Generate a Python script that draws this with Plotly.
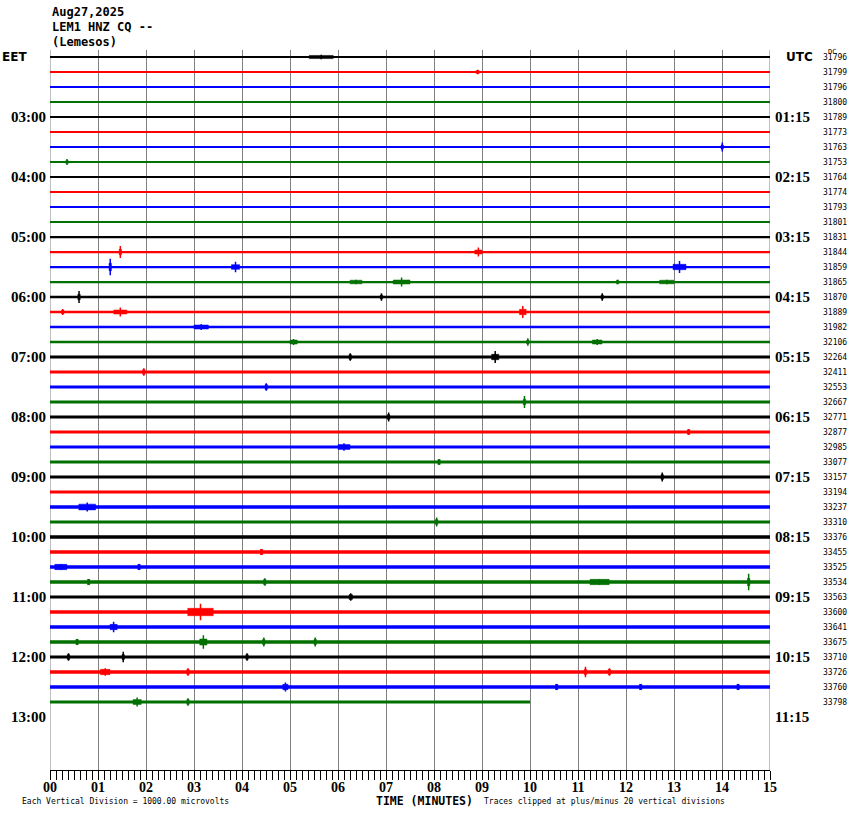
import plotly.graph_objects as go

# ---------------- data ----------------
title_lines = ["Aug27,2025", "LEM1 HNZ CQ --", "(Lemesos)"]
minute_ticks = [f"{m:02d}" for m in range(16)]
left_hour_labels = ["03:00", "04:00", "05:00", "06:00", "07:00", "08:00",
                    "09:00", "10:00", "11:00", "12:00", "13:00"]
right_hour_labels = ["01:15", "02:15", "03:15", "04:15", "05:15", "06:15",
                     "07:15", "08:15", "09:15", "10:15", "11:15"]
dc_values = [31796, 31799, 31796, 31800, 31789, 31773, 31763, 31753,
             31764, 31774, 31793, 31801, 31831, 31844, 31859, 31865,
             31870, 31889, 31982, 32106, 32264, 32411, 32553, 32667,
             32771, 32877, 32985, 33077, 33157, 33194, 33237, 33310,
             33376, 33455, 33525, 33534, 33563, 33600, 33641, 33675,
             33710, 33726, 33760, 33798]
# minute at which each line ends (last line is still being recorded)
trace_end = [15] * 43 + [10]
# background noise half-amplitude per line (in trace spacings)
noise_amp = ([0.065] * 12 + [0.075] * 4 + [0.085] * 4 + [0.10] * 8 +
             [0.10, 0.10, 0.12, 0.10, 0.11, 0.11, 0.11, 0.11,
              0.10, 0.11, 0.11, 0.11, 0.10, 0.11, 0.11, 0.10])
trace_colors = ["#000000", "#ff0000", "#0000ff", "#007000"]

# notable signal bursts: line index, start minute, end minute, peak half-amplitude (trace spacings)
ev_row = [0, 1, 6, 7, 13, 13, 14, 14, 14, 15, 15, 15, 15,
          16, 16, 16, 17, 17, 17, 18, 19, 19, 19,
          20, 20, 21, 22, 23, 24, 25, 26, 27, 28, 30, 31,
          33, 34, 34, 35, 35, 35, 35, 36, 37, 38,
          39, 39, 39, 39, 40, 40, 40, 41, 41, 41, 41,
          42, 42, 42, 42, 43, 43]
ev_start = [5.40, 8.88, 13.98, 0.33, 1.44, 8.85, 1.23, 3.78, 12.98, 7.15, 6.25, 12.7, 11.8,
            0.58, 6.88, 11.48, 1.33, 0.24, 9.78, 3.00, 5.00, 9.93, 11.3,
            9.20, 6.23, 1.93, 4.48, 9.86, 7.03, 13.28, 6.00, 8.08, 12.73, 0.60, 8.03,
            4.38, 0.10, 1.83, 14.53, 11.25, 0.78, 4.45, 6.23, 2.87, 1.25,
            3.12, 4.43, 5.50, 0.54, 1.50, 4.08, 0.36, 1.05, 2.85, 11.13, 11.63,
            4.85, 10.53, 12.28, 14.31, 1.73, 2.85]
ev_end = [5.90, 8.94, 14.03, 0.38, 1.49, 9.00, 1.28, 3.95, 13.25, 7.50, 6.50, 13.0, 11.85,
          0.63, 6.93, 11.53, 1.60, 0.29, 9.92, 3.30, 5.15, 9.98, 11.5,
          9.35, 6.28, 1.98, 4.53, 9.91, 7.08, 13.33, 6.25, 8.13, 12.78, 0.95, 8.08,
          4.43, 0.35, 1.88, 14.58, 11.65, 0.83, 4.50, 6.30, 3.40, 1.40,
          3.27, 4.48, 5.55, 0.59, 1.55, 4.13, 0.41, 1.25, 2.90, 11.18, 11.68,
          4.96, 10.58, 12.33, 14.36, 1.90, 2.90]
ev_amp = [0.15, 0.15, 0.30, 0.20, 0.40, 0.30, 0.55, 0.35, 0.40, 0.30, 0.15, 0.15, 0.15,
          0.40, 0.25, 0.25, 0.30, 0.20, 0.40, 0.20, 0.20, 0.25, 0.20,
          0.40, 0.25, 0.25, 0.25, 0.40, 0.30, 0.20, 0.25, 0.20, 0.30, 0.30, 0.30,
          0.20, 0.20, 0.20, 0.55, 0.20, 0.20, 0.25, 0.25, 0.55, 0.35,
          0.45, 0.30, 0.30, 0.20, 0.35, 0.25, 0.25, 0.25, 0.25, 0.35, 0.25,
          0.30, 0.20, 0.20, 0.20, 0.30, 0.25]

# ---------------- figure ----------------
W, H = 850, 814
ML, MR, MT, MB = 50, 80, 50, 44
n_rows_span = 48
top_pad = 0.467
y_top = top_pad
y_bot = top_pad - n_rows_span
px_per_row = (H - MT - MB) / n_rows_span

fig = go.Figure()

n = len(dc_values)
for i in range(n):
    col = trace_colors[i % 4]
    fig.add_trace(go.Scatter(
        x=[0, trace_end[i]], y=[-i, -i], mode="lines",
        line=dict(color=col, width=max(1.0, 2 * noise_amp[i] * px_per_row)),
        hoverinfo="skip", showlegend=False))

# bursts grouped by colour: a thickened band plus a peak spike
for c in range(4):
    bx, by, sx, sy = [], [], [], []
    for r, t0, t1, a in zip(ev_row, ev_start, ev_end, ev_amp):
        if r % 4 != c:
            continue
        b = -r
        h = max(noise_amp[r] * 1.6, a * 0.45)
        bx += [t0, t1, t1, t0, t0, None]
        by += [b - h, b - h, b + h, b + h, b - h, None]
        tm = (t0 + t1) / 2
        sx += [tm, tm, None]
        sy += [b - a, b + a, None]
    fig.add_trace(go.Scatter(
        x=bx, y=by, mode="lines", fill="toself", fillcolor=trace_colors[c],
        line=dict(color=trace_colors[c], width=0.5), hoverinfo="skip",
        showlegend=False))
    fig.add_trace(go.Scatter(
        x=sx, y=sy, mode="lines",
        line=dict(color=trace_colors[c], width=1.5), hoverinfo="skip",
        showlegend=False))

# plot borders left/right
for xv in (0, 15):
    fig.add_shape(type="line", xref="x", yref="paper", x0=xv, x1=xv, y0=0, y1=1,
                  line=dict(color="#808080", width=1), layer="below")

ann = []
mono = "DejaVu Sans Mono"
serif = "Liberation Serif"
for k, t in enumerate(title_lines):
    ann.append(dict(text=f"<b>{t}</b>", xref="paper", yref="paper", x=0, y=1,
                    xanchor="left", yanchor="middle", yshift=MT - 12 - 15 * k,
                    showarrow=False, font=dict(family=mono, size=12, color="black")))

ann.append(dict(text="<b>EET</b>", xref="paper", yref="y", x=-ML / (W - ML - MR), y=0,
                xanchor="left", yanchor="middle", showarrow=False,
                font=dict(family="DejaVu Sans", size=12, color="black")))
ann.append(dict(text="<b>UTC</b>", xref="paper", yref="y", x=1, y=0, xshift=14,
                xanchor="left", yanchor="middle", showarrow=False,
                font=dict(family="DejaVu Sans", size=12, color="black")))
ann.append(dict(text="DC", xref="paper", yref="y", x=1, y=0, xshift=56, yshift=5,
                xanchor="left", yanchor="middle", showarrow=False,
                font=dict(family=mono, size=7, color="black")))

for k, (lt, rt) in enumerate(zip(left_hour_labels, right_hour_labels)):
    row = 4 * (k + 1)
    ann.append(dict(text=f"<b>{lt}</b>", xref="paper", yref="y", x=0, y=-row,
                    xanchor="right", yanchor="middle", xshift=-2, showarrow=False,
                    font=dict(family=serif, size=15, color="black")))
    ann.append(dict(text=f"<b>{rt}</b>", xref="paper", yref="y", x=1, y=-row,
                    xanchor="left", yanchor="middle", xshift=3, showarrow=False,
                    font=dict(family=serif, size=15, color="black")))

for i, v in enumerate(dc_values):
    ann.append(dict(text=str(v), xref="paper", yref="y", x=1, y=-i,
                    xanchor="left", yanchor="middle", xshift=51, showarrow=False,
                    font=dict(family=mono, size=8, color="black")))

pw = W - ML - MR
ann.append(dict(text="<b>TIME (MINUTES)</b>", xref="paper", yref="paper",
                x=(374 - ML) / pw, y=0, xanchor="left", yanchor="middle", yshift=-31,
                showarrow=False, font=dict(family=mono, size=11.5, color="black")))
ann.append(dict(text="Each Vertical Division = 1000.00 microvolts", xref="paper",
                yref="paper", x=(20 - ML) / pw, y=0, xanchor="left", yanchor="middle",
                yshift=-31, showarrow=False, font=dict(family=mono, size=8, color="black")))
ann.append(dict(text="Traces clipped at plus/minus 20 vertical divisions", xref="paper",
                yref="paper", x=(482 - ML) / pw, y=0, xanchor="left", yanchor="middle",
                yshift=-31, showarrow=False, font=dict(family=mono, size=8, color="black")))

fig.update_layout(
    width=W, height=H, margin=dict(l=ML, r=MR, t=MT, b=MB, pad=0),
    paper_bgcolor="white", plot_bgcolor="white", annotations=ann,
    xaxis=dict(range=[0, 15], tickmode="array", tickvals=list(range(16)),
               ticktext=[f"<b>{t}</b>" for t in minute_ticks],
               showgrid=True, gridcolor="#808080", gridwidth=1, zeroline=False,
               showline=True, linecolor="black", linewidth=1,
               ticks="outside", ticklen=9, tickcolor="black", tickwidth=1,
               ticklabelstandoff=-5,
               tickfont=dict(family=serif, size=14, color="black"),
               minor=dict(dtick=0.125, tick0=0, ticks="outside", ticklen=9,
                          tickcolor="black", tickwidth=1, showgrid=False),
               fixedrange=True),
    yaxis=dict(range=[y_bot, y_top], showgrid=False, zeroline=False,
               showticklabels=False, ticks="", showline=False, fixedrange=True),
)

fig.write_html("out.html", config={"displayModeBar": False},
               post_script="document.body.style.margin='0';document.body.style.overflow='hidden';")
